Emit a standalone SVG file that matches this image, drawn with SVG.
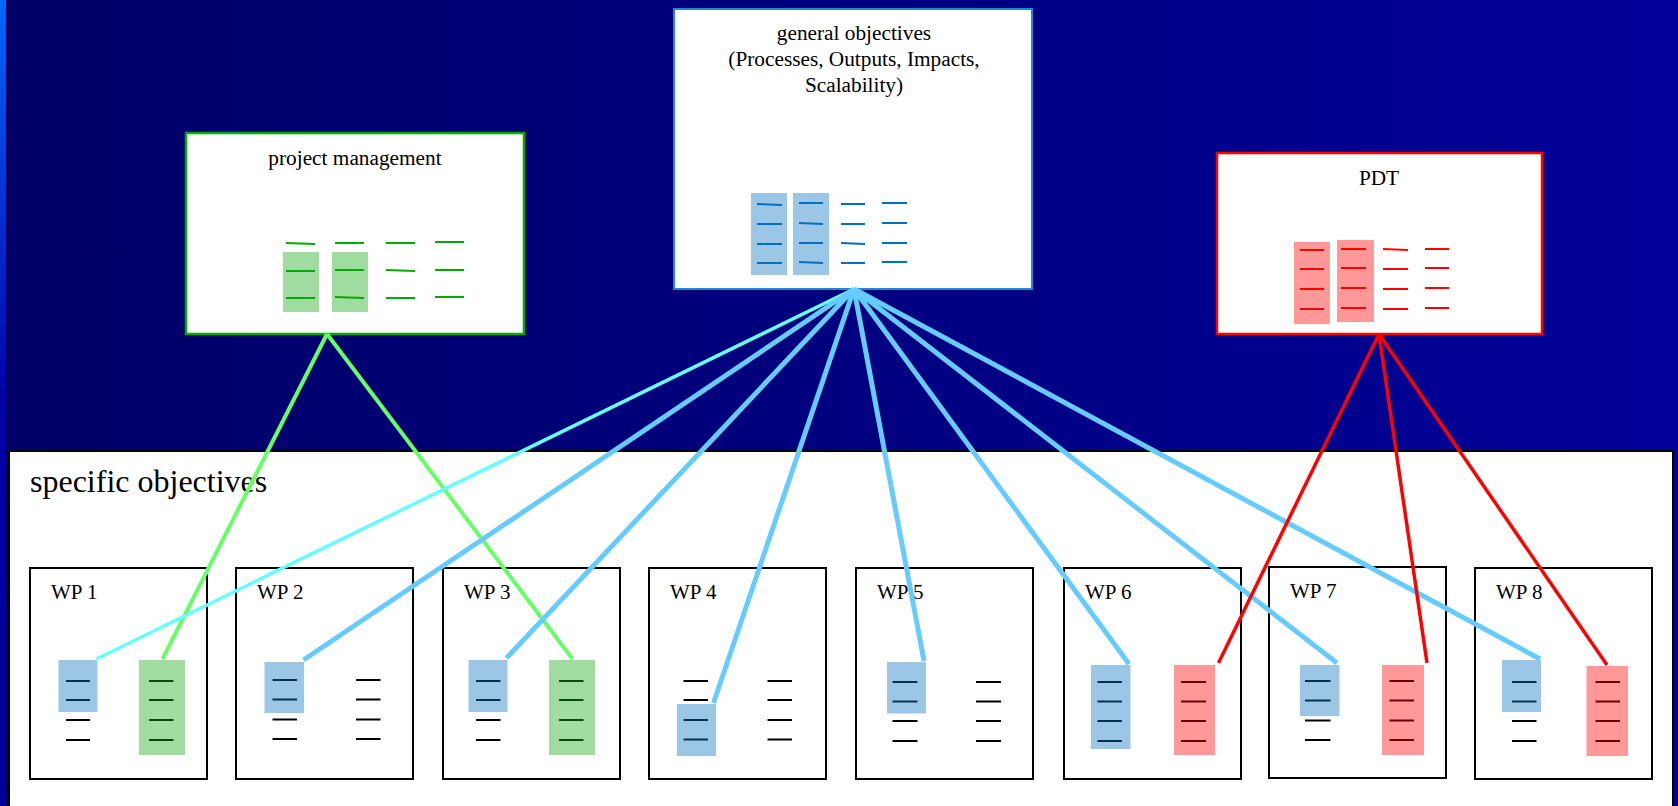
<svg xmlns="http://www.w3.org/2000/svg" width="1678" height="806" viewBox="0 0 1678 806">
<defs>
<linearGradient id="bg" x1="0" y1="0" x2="1" y2="0">
<stop offset="0" stop-color="#000066"/>
<stop offset="1" stop-color="#000099"/>
</linearGradient>
<linearGradient id="edge" x1="0" y1="0" x2="0" y2="1">
<stop offset="0" stop-color="#0066ff"/>
<stop offset="0.5" stop-color="#0000aa"/>
<stop offset="1" stop-color="#000099"/>
</linearGradient>
</defs>
<style>
text{font-family:"Liberation Serif","Times New Roman",serif;fill:#000}
.t{font-size:21.3px}
.wpt{font-size:21px}
.top{fill:#fff}
.wp{fill:#fff;stroke:#000;stroke-width:2}
.rb{fill:#9cc6e6}
.rg{fill:#a0dca0}
.rr{fill:#ff9999}
.lk{stroke:#000;stroke-width:2}
.ln{stroke:#0a3050;stroke-width:2}
.lgd{stroke:#0a4a0a;stroke-width:2}
.lrd{stroke:#6a0000;stroke-width:2}
.lg{stroke:#00aa00;stroke-width:2}
.lb{stroke:#0070c0;stroke-width:2}
.lr{stroke:#ff0000;stroke-width:2}
.c{fill:none;stroke-linecap:butt}
.cc{stroke:#66ffff;stroke-width:3.5}
.cb{stroke:#66ccff;stroke-width:5}
.cg{stroke:#66ff66;stroke-width:4}
.cr{stroke:#ff0000;stroke-width:3.5}
</style>
<rect x="0" y="0" width="1678" height="806" fill="url(#bg)"/>
<rect x="0" y="0" width="6" height="806" fill="url(#edge)"/>

<g id="specific-objectives">
<rect x="9" y="451" width="1664" height="360" fill="#fff" stroke="#000" stroke-width="2"/>
<text x="30" y="492" style="font-size:32px">specific objectives</text>
</g>

<g id="project-management">
<rect class="top" x="186" y="133" width="338" height="201" stroke="#00aa00" stroke-width="2.5"/>
<text class="t" x="355" y="165" text-anchor="middle">project management</text>
<rect class="rg" x="283" y="252" width="36" height="60"/>
<rect class="rg" x="332" y="252" width="36" height="60"/>
<g class="lg">
<line x1="286" y1="243" x2="315" y2="244"/><line x1="335" y1="243" x2="364" y2="243"/><line x1="386" y1="243" x2="415" y2="243"/><line x1="435" y1="242" x2="464" y2="242"/>
<line x1="286" y1="271" x2="315" y2="271"/><line x1="335" y1="270" x2="364" y2="270"/><line x1="386" y1="270" x2="415" y2="271"/><line x1="435" y1="270" x2="464" y2="270"/>
<line x1="286" y1="298" x2="315" y2="298"/><line x1="335" y1="297" x2="364" y2="298"/><line x1="386" y1="298" x2="415" y2="298"/><line x1="435" y1="297" x2="464" y2="297"/>
</g>
</g>

<g id="general-objectives">
<rect class="top" x="674" y="9" width="358" height="280" stroke="#1e88d0" stroke-width="2"/>
<text class="t" x="854" y="40" text-anchor="middle">general objectives</text>
<text class="t" x="854" y="66" text-anchor="middle">(Processes, Outputs, Impacts,</text>
<text class="t" x="854" y="92" text-anchor="middle">Scalability)</text>
<rect class="rb" x="751" y="193" width="36" height="82"/>
<rect class="rb" x="793" y="193" width="36" height="82"/>
<g class="lb">
<line x1="757" y1="204" x2="782" y2="205"/><line x1="799" y1="203" x2="823" y2="203"/><line x1="841" y1="204" x2="865" y2="204"/><line x1="882" y1="203" x2="907" y2="203"/>
<line x1="757" y1="224" x2="782" y2="224"/><line x1="799" y1="223" x2="823" y2="224"/><line x1="841" y1="224" x2="865" y2="224"/><line x1="882" y1="223" x2="907" y2="223"/>
<line x1="757" y1="244" x2="782" y2="244"/><line x1="799" y1="243" x2="823" y2="243"/><line x1="841" y1="243" x2="865" y2="244"/><line x1="882" y1="243" x2="907" y2="243"/>
<line x1="757" y1="263" x2="782" y2="263"/><line x1="799" y1="262" x2="823" y2="263"/><line x1="841" y1="263" x2="865" y2="263"/><line x1="882" y1="262" x2="907" y2="262"/>
</g>
</g>

<g id="pdt">
<rect class="top" x="1217" y="153" width="325" height="181" stroke="#ff0000" stroke-width="2.5"/>
<text class="t" x="1379" y="185" text-anchor="middle">PDT</text>
<rect class="rr" x="1294" y="242" width="36" height="82"/>
<rect class="rr" x="1337" y="240" width="37" height="82"/>
<g class="lr">
<line x1="1300" y1="250" x2="1324" y2="250"/><line x1="1341" y1="249" x2="1366" y2="249"/><line x1="1383" y1="249" x2="1408" y2="250"/><line x1="1425" y1="249" x2="1449" y2="249"/>
<line x1="1300" y1="269" x2="1324" y2="269"/><line x1="1341" y1="268" x2="1366" y2="268"/><line x1="1383" y1="269" x2="1408" y2="269"/><line x1="1425" y1="268" x2="1449" y2="268"/>
<line x1="1300" y1="289" x2="1324" y2="289"/><line x1="1341" y1="288" x2="1366" y2="288"/><line x1="1383" y1="289" x2="1408" y2="289"/><line x1="1425" y1="288" x2="1449" y2="288"/>
<line x1="1300" y1="309" x2="1324" y2="309"/><line x1="1341" y1="308" x2="1366" y2="308"/><line x1="1383" y1="309" x2="1408" y2="309"/><line x1="1425" y1="308" x2="1449" y2="308"/>
</g>
</g>

<g id="wp1">
<rect class="wp" x="30" y="568" width="177" height="211"/>
<text class="wpt" x="51" y="599">WP 1</text>
<rect class="rb" x="58.5" y="660" width="39" height="52"/>
<rect class="rg" x="139" y="660" width="46" height="95"/>
<line class="ln" x1="66" y1="681" x2="90" y2="681"/><line class="ln" x1="66" y1="700" x2="90" y2="700"/>
<line class="lk" x1="66" y1="720" x2="90" y2="720"/><line class="lk" x1="66" y1="740" x2="90" y2="740"/>
<line class="lgd" x1="149" y1="681" x2="173.5" y2="681"/><line class="lgd" x1="149" y1="700" x2="173.5" y2="700"/>
<line class="lgd" x1="149" y1="720" x2="173.5" y2="720"/><line class="lgd" x1="149" y1="740" x2="173.5" y2="740"/>
</g>

<g id="wp2">
<rect class="wp" x="236" y="568" width="177" height="211"/>
<text class="wpt" x="257" y="599">WP 2</text>
<rect class="rb" x="264.5" y="662" width="39.5" height="51"/>
<line class="ln" x1="272.5" y1="680" x2="297" y2="680"/><line class="ln" x1="272.5" y1="699.5" x2="297" y2="699.5"/>
<line class="lk" x1="272.5" y1="719.5" x2="297" y2="719.5"/><line class="lk" x1="272.5" y1="739" x2="297" y2="739"/>
<line class="lk" x1="356" y1="680" x2="380.5" y2="680"/><line class="lk" x1="356" y1="699.5" x2="380.5" y2="699.5"/>
<line class="lk" x1="356" y1="719.5" x2="380.5" y2="719.5"/><line class="lk" x1="356" y1="739" x2="380.5" y2="739"/>
</g>

<g id="wp3">
<rect class="wp" x="443" y="568" width="177" height="211"/>
<text class="wpt" x="464" y="599">WP 3</text>
<rect class="rb" x="468.5" y="660" width="39" height="52"/>
<rect class="rg" x="549" y="660" width="46" height="95"/>
<line class="ln" x1="476" y1="681" x2="500.5" y2="681"/><line class="ln" x1="476" y1="700" x2="500.5" y2="700"/>
<line class="lk" x1="476" y1="720" x2="500.5" y2="720"/><line class="lk" x1="476" y1="740" x2="500.5" y2="740"/>
<line class="lgd" x1="559" y1="681" x2="583.5" y2="681"/><line class="lgd" x1="559" y1="700" x2="583.5" y2="700"/>
<line class="lgd" x1="559" y1="720" x2="583.5" y2="720"/><line class="lgd" x1="559" y1="740" x2="583.5" y2="740"/>
</g>

<g id="wp4">
<rect class="wp" x="649" y="568" width="177" height="211"/>
<text class="wpt" x="670" y="599">WP 4</text>
<rect class="rb" x="677" y="704" width="39" height="52"/>
<line class="lk" x1="683.5" y1="681" x2="708" y2="681"/><line class="lk" x1="683.5" y1="700" x2="708" y2="700"/>
<line class="ln" x1="683.5" y1="720" x2="708" y2="720"/><line class="ln" x1="683.5" y1="739.5" x2="708" y2="739.5"/>
<line class="lk" x1="767.5" y1="681" x2="792" y2="681"/><line class="lk" x1="767.5" y1="700" x2="792" y2="700"/>
<line class="lk" x1="767.5" y1="720" x2="792" y2="720"/><line class="lk" x1="767.5" y1="739.5" x2="792" y2="739.5"/>
</g>

<g id="wp5">
<rect class="wp" x="856" y="568" width="177" height="211"/>
<text class="wpt" x="877" y="599">WP 5</text>
<rect class="rb" x="887" y="662" width="39" height="51.5"/>
<line class="ln" x1="892.5" y1="682" x2="917.5" y2="682"/><line class="ln" x1="892.5" y1="701.5" x2="917.5" y2="701.5"/>
<line class="lk" x1="892.5" y1="721" x2="917.5" y2="721"/><line class="lk" x1="892.5" y1="741" x2="917.5" y2="741"/>
<line class="lk" x1="976" y1="682" x2="1001" y2="682"/><line class="lk" x1="976" y1="701.5" x2="1001" y2="701.5"/>
<line class="lk" x1="976" y1="721" x2="1001" y2="721"/><line class="lk" x1="976" y1="741" x2="1001" y2="741"/>
</g>

<g id="wp6">
<rect class="wp" x="1064" y="568" width="177" height="211"/>
<text class="wpt" x="1085" y="599">WP 6</text>
<rect class="rb" x="1091" y="665" width="39.5" height="84"/>
<rect class="rr" x="1174" y="665" width="41" height="90"/>
<line class="ln" x1="1097.5" y1="682" x2="1122" y2="682"/><line class="ln" x1="1097.5" y1="701.5" x2="1122" y2="701.5"/>
<line class="ln" x1="1097.5" y1="721" x2="1122" y2="721"/><line class="ln" x1="1097.5" y1="741" x2="1122" y2="741"/>
<line class="lrd" x1="1181" y1="682" x2="1206" y2="682"/><line class="lrd" x1="1181" y1="701.5" x2="1206" y2="701.5"/>
<line class="lrd" x1="1181" y1="721" x2="1206" y2="721"/><line class="lrd" x1="1181" y1="741" x2="1206" y2="741"/>
</g>

<g id="wp7">
<rect class="wp" x="1269" y="567" width="177" height="211"/>
<text class="wpt" x="1290" y="598">WP 7</text>
<rect class="rb" x="1300" y="665" width="39.5" height="51"/>
<rect class="rr" x="1382" y="665" width="42" height="90"/>
<line class="ln" x1="1305" y1="681" x2="1330.5" y2="681"/><line class="ln" x1="1305" y1="700.5" x2="1330.5" y2="700.5"/>
<line class="lk" x1="1305" y1="720.5" x2="1330.5" y2="720.5"/><line class="lk" x1="1305" y1="740" x2="1330.5" y2="740"/>
<line class="lrd" x1="1389.5" y1="681" x2="1414" y2="681"/><line class="lrd" x1="1389.5" y1="700.5" x2="1414" y2="700.5"/>
<line class="lrd" x1="1389.5" y1="720.5" x2="1414" y2="720.5"/><line class="lrd" x1="1389.5" y1="740" x2="1414" y2="740"/>
</g>

<g id="wp8">
<rect class="wp" x="1475" y="568" width="177" height="211"/>
<text class="wpt" x="1496" y="599">WP 8</text>
<rect class="rb" x="1502" y="660" width="39" height="52"/>
<rect class="rr" x="1586.5" y="666" width="41.5" height="90"/>
<line class="ln" x1="1512" y1="682" x2="1536.5" y2="682"/><line class="ln" x1="1512" y1="701.5" x2="1536.5" y2="701.5"/>
<line class="lk" x1="1512" y1="721" x2="1536.5" y2="721"/><line class="lk" x1="1512" y1="741" x2="1536.5" y2="741"/>
<line class="lrd" x1="1595.5" y1="682" x2="1620" y2="682"/><line class="lrd" x1="1595.5" y1="701.5" x2="1620" y2="701.5"/>
<line class="lrd" x1="1595.5" y1="721" x2="1620" y2="721"/><line class="lrd" x1="1595.5" y1="741" x2="1620" y2="741"/>
</g>

<g id="connectors" class="c">
<line class="cg" x1="327" y1="334" x2="162.5" y2="659"/>
<line class="cg" x1="327" y1="334" x2="572.5" y2="659"/>
<line class="cc" x1="854" y1="289" x2="96.5" y2="659"/>
<line class="cb" x1="854" y1="289" x2="303.5" y2="660"/>
<line class="cb" x1="854" y1="289" x2="506.5" y2="658"/>
<line class="cb" x1="854" y1="289" x2="713.5" y2="703"/>
<line class="cb" x1="854" y1="289" x2="924" y2="661"/>
<line class="cb" x1="854" y1="289" x2="1129" y2="664"/>
<line class="cb" x1="854" y1="289" x2="1337" y2="663"/>
<line class="cb" x1="854" y1="289" x2="1540" y2="659"/>
<line class="cr" x1="1379" y1="334" x2="1218.5" y2="663"/>
<line class="cr" x1="1379" y1="334" x2="1427" y2="663"/>
<line class="cr" x1="1379" y1="334" x2="1607" y2="665"/>
</g>
</svg>
